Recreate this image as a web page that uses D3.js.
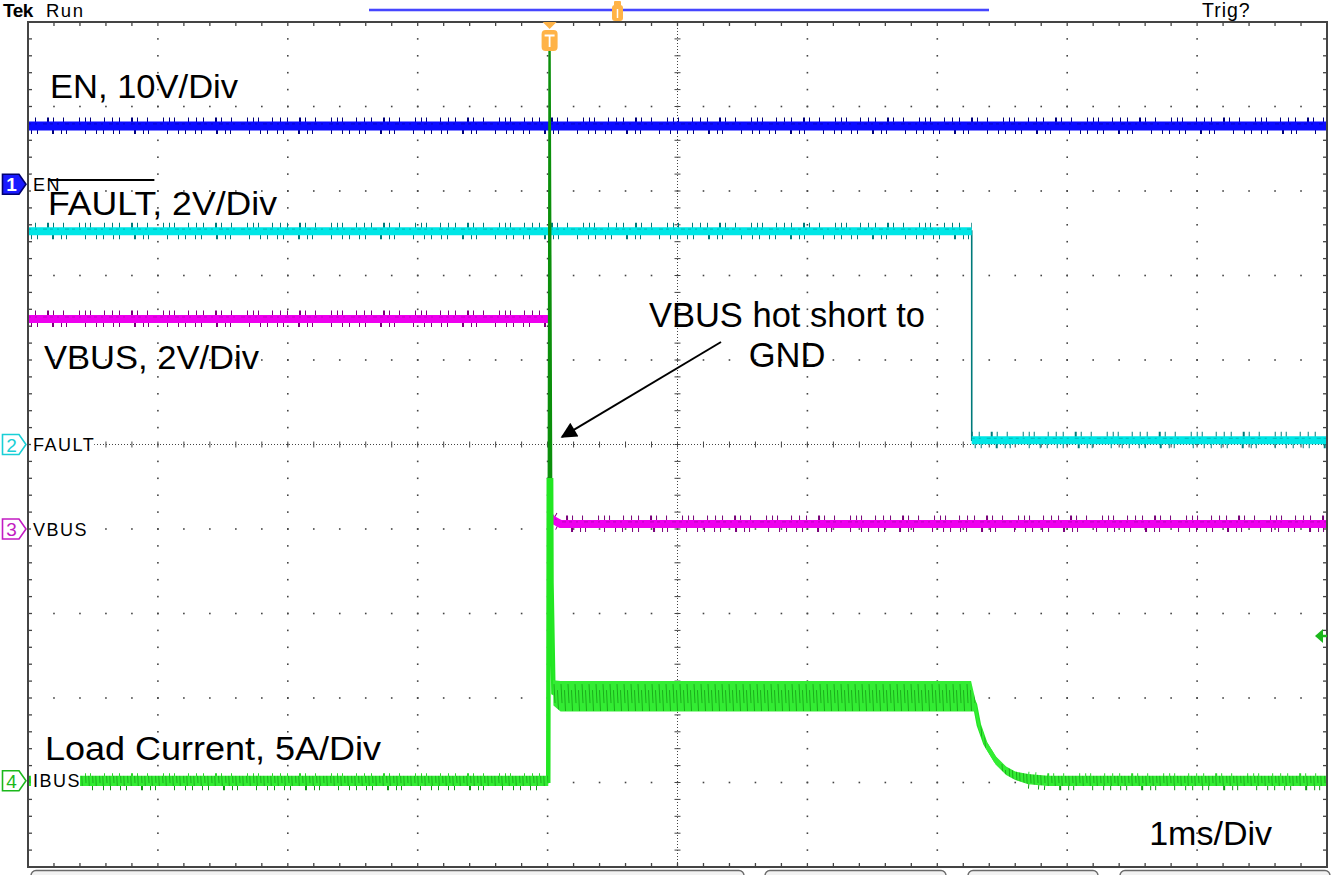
<!DOCTYPE html>
<html><head><meta charset="utf-8">
<script src="https://cdn.jsdelivr.net/npm/d3@7/dist/d3.min.js"></script>
<style>
body{margin:0;background:#fff;}
svg text{font-family:"Liberation Sans",Arial,sans-serif;}
</style></head><body>
<svg id="c" width="1333" height="875"></svg>
<script>
// ---------------- data (read from the scope capture) ----------------
const timeDomainMs = [-4, 6];          // 1 ms/div, 10 horizontal divisions, trigger at 0
const divRange = [-5, 5];              // 10 vertical divisions

const channelNames = ["EN", "FAULT", "VBUS", "IBUS"];
const channelNums = ["1", "2", "3", "4"];
const channelScales = [10, 2, 2, 5];          // units per division
const channelOffsets = [3.08, 0, -1.0, -3.98]; // ground marker, in divisions
const channelTitles = ["EN, 10V/Div", "FAULT, 2V/Div", "VBUS, 2V/Div", "Load Current, 5A/Div"];

const enTime = [-4, 6];
const enVolts = [6.9, 6.9];

const faultTime = [-4, 3.265, 3.265, 6];
const faultVolts = [5.05, 5.05, 0.1, 0.1];

const vbusTime = [-4, 0.015, 0.015, 0.04, 0.1, 6];
const vbusVolts = [4.97, 4.97, 0.3, 0.22, 0.12, 0.12];

const ibusTime = [-4, 0.005, 0.015, 0.03, 0.045, 0.1, 3.26, 3.29, 3.32, 3.37, 3.45, 3.53, 3.6, 3.7, 3.85, 6];
const ibusAmps = [0, 0, 43.5, 11.7, 5.2, 5.0, 5.0, 4.5, 3.3, 2.2, 1.2, 0.6, 0.3, 0.1, 0.0, 0];
const ibusRipple = [0.6, 0.6, 0, 0, 1.5, 1.8, 1.8, 0.8, 0.5, 0.5, 0.5, 0.5, 0.5, 0.6, 0.6, 0.6];

const annotationLines = ["VBUS hot short to", "GND"];
const timebaseLabel = "1ms/Div";
// annotation arrow: [time ms, divisions]
const arrowFrom = [1.335, 1.213];
const arrowTo = [0.111, 0.089];

// ---------------- setup ----------------
const svg = d3.select("#c");
const L = 28, R = 1327, T = 22, B = 867;
const x = d3.scaleLinear().domain(timeDomainMs).range([L, R]);
const yd = d3.scaleLinear().domain(divRange).range([B, T]);
const chY = (ci, v) => yd(channelOffsets[ci] + v / channelScales[ci]);

const traceColors = ["#0c0cff", "#00e6e6", "#ee00ee", "#22e622"];
const darkColors = ["#00007a", "#007a7a", "#7a007a", "#0a8a0a"];
const markerColors = ["#1a1aff", "#19cfd6", "#c21bc2", "#1bb81b"];

const defs = svg.append("defs");
defs.append("clipPath").attr("id", "plot").append("rect")
  .attr("x", L).attr("y", T).attr("width", R - L).attr("height", B - T);
defs.append("clipPath").attr("id", "lower").append("rect")
  .attr("x", L).attr("y", 478).attr("width", R - L).attr("height", B - 478);
const rip = defs.append("pattern").attr("id", "rip").attr("width", 7).attr("height", 40)
  .attr("patternUnits", "userSpaceOnUse").attr("y", chY(3, 5.9));
rip.append("rect").attr("width", 7).attr("height", 40).attr("fill", "#33ec33");
rip.append("path").attr("d", "M1,3 L2,22 M4.5,9 L5.5,30").attr("stroke", "#17a617").attr("stroke-width", 0.9);
defs.append("marker").attr("id", "ah").attr("viewBox", "0 0 10 10").attr("refX", 9).attr("refY", 5)
  .attr("markerWidth", 22).attr("markerHeight", 16).attr("markerUnits", "userSpaceOnUse")
  .attr("orient", "auto")
  .append("path").attr("d", "M0,0 L10,5 L0,10 Z").attr("fill", "#000");

// ---------------- graticule ----------------
const grid = svg.append("g");
const gridCol = "#444";
const minorX = d3.range(0, 51).map(i => timeDomainMs[0] + i * 0.2);
const minorY = d3.range(0, 51).map(i => divRange[0] + i * 0.2);
const majX = d3.range(1, 10).map(i => timeDomainMs[0] + i);
const majY = d3.range(1, 10).map(i => divRange[0] + i);
const cT = timeDomainMs[0] + 5, cD = 0;

majX.filter(t => Math.abs(t - cT) > 1e-6).forEach(t => {
  minorY.slice(1, -1).forEach(d => {
    grid.append("rect").attr("x", x(t) - 0.8).attr("y", yd(d) - 0.8).attr("width", 1.6).attr("height", 1.6).attr("fill", gridCol);
  });
});
majY.filter(d => Math.abs(d - cD) > 1e-6).forEach(d => {
  minorX.slice(1, -1).forEach(t => {
    grid.append("rect").attr("x", x(t) - 0.8).attr("y", yd(d) - 0.8).attr("width", 1.6).attr("height", 1.6).attr("fill", gridCol);
  });
});
grid.append("line").attr("x1", x(cT)).attr("x2", x(cT)).attr("y1", T).attr("y2", B)
  .attr("stroke", gridCol).attr("stroke-width", 1).attr("stroke-dasharray", "1 2");
grid.append("line").attr("x1", L).attr("x2", R).attr("y1", yd(cD)).attr("y2", yd(cD))
  .attr("stroke", gridCol).attr("stroke-width", 1).attr("stroke-dasharray", "1 2");
minorY.forEach(d => grid.append("line").attr("x1", x(cT) - 3).attr("x2", x(cT) + 3).attr("y1", yd(d)).attr("y2", yd(d)).attr("stroke", gridCol));
minorX.forEach(t => grid.append("line").attr("x1", x(t)).attr("x2", x(t)).attr("y1", yd(cD) - 3).attr("y2", yd(cD) + 3).attr("stroke", gridCol));
minorX.forEach(t => {
  grid.append("line").attr("x1", x(t)).attr("x2", x(t)).attr("y1", T).attr("y2", T + 4).attr("stroke", gridCol).attr("stroke-width", 1.3);
  grid.append("line").attr("x1", x(t)).attr("x2", x(t)).attr("y1", B).attr("y2", B - 4).attr("stroke", gridCol).attr("stroke-width", 1.3);
});
minorY.forEach(d => {
  grid.append("line").attr("x1", L).attr("x2", L + 4).attr("y1", yd(d)).attr("y2", yd(d)).attr("stroke", gridCol).attr("stroke-width", 1.3);
  grid.append("line").attr("x1", R).attr("x2", R - 4).attr("y1", yd(d)).attr("y2", yd(d)).attr("stroke", gridCol).attr("stroke-width", 1.3);
});

// ---------------- traces ----------------
const traces = svg.append("g").attr("clip-path", "url(#plot)");
const line = d3.line();
const dashA = "1 6 1 11 2 4 1 9 1 15 1 5 1 4 1 13 1 7";
const dashB = "1 9 1 5 1 14 2 7 1 4 1 18 1 10 1 6";

function drawBand(ci, ts, vs, width) {
  const pts = ts.map((t, i) => [x(t), chY(ci, vs[i])]);
  traces.append("path").attr("d", line(pts)).attr("fill", "none")
    .attr("stroke", darkColors[ci]).attr("stroke-width", 1.6);
  const runs = [];
  let cur = [pts[0]];
  for (let i = 1; i < pts.length; i++) {
    if (Math.abs(pts[i][0] - pts[i - 1][0]) < 0.5) { runs.push(cur); cur = [pts[i]]; }
    else cur.push(pts[i]);
  }
  runs.push(cur);
  runs.filter(r => r.length > 1).forEach(r => {
    traces.append("path").attr("d", line(r)).attr("fill", "none").attr("transform", "translate(0,-5)")
      .attr("stroke", darkColors[ci]).attr("stroke-width", 7).attr("stroke-dasharray", dashA);
    traces.append("path").attr("d", line(r)).attr("fill", "none").attr("transform", "translate(0,5)")
      .attr("stroke", darkColors[ci]).attr("stroke-width", 6).attr("stroke-dasharray", dashB).attr("stroke-dashoffset", 7);
    traces.append("path").attr("d", line(r)).attr("fill", "none")
      .attr("stroke", traceColors[ci]).attr("stroke-width", width);
    traces.append("path").attr("d", line(r)).attr("fill", "none").attr("transform", "translate(0,-2)")
      .attr("stroke", darkColors[ci]).attr("stroke-opacity", 0.35).attr("stroke-width", 1.2).attr("stroke-dasharray", "3 4 2 6 4 3");
  });
}

drawBand(0, enTime, enVolts, 9);
drawBand(1, faultTime, faultVolts, 8);
drawBand(2, vbusTime, vbusVolts, 8);

// IBUS
{
  const ci = 3;
  const pts = ibusTime.map((t, i) => [x(t), chY(ci, ibusAmps[i])]);
  traces.append("path").attr("d", line(pts)).attr("fill", "none")
    .attr("stroke", "#0b8f0b").attr("stroke-width", 2.4);
  const pre = ibusTime.map((t, i) => [t, ibusAmps[i]]).filter(p => p[0] <= 0.005).map(p => [x(p[0]), chY(ci, p[1])]);
  const post = ibusTime.map((t, i) => [t, ibusAmps[i]]).filter(p => p[0] >= 3.7).map(p => [x(p[0]), chY(ci, p[1])]);
  [pre, post].forEach(r => {
    traces.append("path").attr("d", line(r)).attr("fill", "none").attr("transform", "translate(0,6)")
      .attr("stroke", "#139a13").attr("stroke-width", 7).attr("stroke-dasharray", dashB);
    traces.append("path").attr("d", line(r)).attr("fill", "none").attr("transform", "translate(0,-5)")
      .attr("stroke", "#2bd42b").attr("stroke-width", 5).attr("stroke-dasharray", dashA);
  });
  traces.append("path").attr("d", line(pts)).attr("fill", "none").attr("clip-path", "url(#lower)")
    .attr("stroke", traceColors[ci]).attr("stroke-width", 4.5);
  const area = d3.area()
    .x((d, i) => x(ibusTime[i]))
    .y0((d, i) => chY(ci, ibusAmps[i] - ibusRipple[i] / 2))
    .y1((d, i) => chY(ci, ibusAmps[i] + ibusRipple[i] / 2));
  traces.append("path").attr("d", area(ibusTime)).attr("fill", "url(#rip)");
}

// ---------------- border ----------------
svg.append("rect").attr("x", L).attr("y", T).attr("width", R - L).attr("height", B - T)
  .attr("fill", "none").attr("stroke", "#444").attr("stroke-width", 2);

[[31, 744], [765, 946], [968, 1098], [1120, 1330]].forEach(([a, b]) => {
  svg.append("rect").attr("x", a).attr("y", 870.5).attr("width", b - a).attr("height", 14).attr("rx", 5)
    .attr("fill", "#f2f2f2").attr("stroke", "#6a6a6a").attr("stroke-width", 1.4);
});

// ---------------- channel markers + names ----------------
channelNames.forEach((name, ci) => {
  const cy = yd(channelOffsets[ci]);
  const c = markerColors[ci];
  const filled = ci === 0;
  svg.append("path").attr("d", `M2.5,${cy - 10} L19,${cy - 10} L26,${cy} L19,${cy + 10} L2.5,${cy + 10} Z`)
    .attr("fill", filled ? c : "#fff").attr("stroke", filled ? "#000070" : c).attr("stroke-width", 1.6);
  svg.append("text").attr("x", 11.5).attr("y", cy + 7).attr("text-anchor", "middle")
    .attr("font-size", 19).attr("font-family", "DejaVu Sans").attr("font-weight", filled ? "bold" : "normal")
    .attr("fill", filled ? "#fff" : c).text(channelNums[ci]);
  const t = svg.append("text").attr("x", 33).attr("y", cy + 6.5)
    .attr("font-size", 18).attr("font-family", "DejaVu Sans").attr("letter-spacing", 1.5)
    .attr("fill", "#000").text(name);
  const bb = t.node().getBBox();
  svg.insert("rect", () => t.node()).attr("x", bb.x - 2).attr("y", bb.y).attr("width", bb.width + 1).attr("height", bb.height)
    .attr("fill", "#fff");
});

// ---------------- big labels ----------------
const titlePos = [[50, 98], [48, 215], [44, 369], [45, 760]];
const titleWidths = [188, 229, 215, 336];
channelTitles.forEach((s, i) => {
  svg.append("text").attr("x", titlePos[i][0]).attr("y", titlePos[i][1]).attr("font-size", 34)
    .attr("textLength", titleWidths[i]).attr("lengthAdjust", "spacingAndGlyphs")
    .attr("fill", "#000").text(s);
});
{
  const tmp = svg.append("text").attr("font-size", 34).text("FAULT");
  const w = tmp.node().getComputedTextLength() * 1.03;
  tmp.remove();
  svg.append("line").attr("x1", titlePos[1][0]).attr("x2", titlePos[1][0] + w)
    .attr("y1", 180).attr("y2", 180).attr("stroke", "#000").attr("stroke-width", 2);
}

annotationLines.forEach((s, i) => {
  svg.append("text").attr("x", 787).attr("y", 327 + i * 40).attr("text-anchor", "middle")
    .attr("font-size", 34.5).attr("fill", "#000").text(s);
});
svg.append("line")
  .attr("x1", x(arrowFrom[0])).attr("y1", yd(arrowFrom[1]))
  .attr("x2", x(arrowTo[0])).attr("y2", yd(arrowTo[1]))
  .attr("stroke", "#000").attr("stroke-width", 2).attr("marker-end", "url(#ah)");

svg.append("text").attr("x", 1272).attr("y", 845).attr("text-anchor", "end")
  .attr("font-size", 34).attr("fill", "#000").text(timebaseLabel);

// ---------------- header ----------------
svg.append("text").attr("x", 3).attr("y", 17).attr("font-family", "DejaVu Serif").attr("font-weight", "bold")
  .attr("font-size", 19).attr("letter-spacing", -0.5).attr("fill", "#000").text("Tek");
svg.append("text").attr("x", 46).attr("y", 17).attr("font-family", "DejaVu Sans")
  .attr("font-size", 18.5).attr("letter-spacing", 1.5).attr("fill", "#000").text("Run");
svg.append("text").attr("x", 1202).attr("y", 17).attr("font-family", "DejaVu Sans")
  .attr("font-size", 19.5).attr("letter-spacing", 1).attr("fill", "#000").text("Trig?");

svg.append("line").attr("x1", 369).attr("x2", 989).attr("y1", 10).attr("y2", 10)
  .attr("stroke", "#9a9aff").attr("stroke-width", 3);
svg.append("line").attr("x1", 369).attr("x2", 989).attr("y1", 10).attr("y2", 10)
  .attr("stroke", "#2a2aff").attr("stroke-width", 1.5);
svg.append("rect").attr("x", 614).attr("y", 1).attr("width", 7).attr("height", 5).attr("rx", 1).attr("fill", "#ffb347");
svg.append("rect").attr("x", 612).attr("y", 5).attr("width", 11).attr("height", 16).attr("rx", 3).attr("fill", "#ffb347");
svg.append("line").attr("x1", 617.5).attr("x2", 617.5).attr("y1", 9).attr("y2", 18).attr("stroke", "#fff").attr("stroke-width", 1.5);

{
  const tx = x(0) + 2;
  svg.append("path").attr("d", `M${tx - 7},22 L${tx + 7},22 L${tx},29 Z`).attr("fill", "#ffb347");
  svg.append("rect").attr("x", tx - 8).attr("y", 30).attr("width", 16).attr("height", 21).attr("rx", 4).attr("fill", "#ffb347");
  svg.append("path").attr("d", `M${tx - 5},35.5 L${tx + 5},35.5 M${tx},35.5 L${tx},47`).attr("stroke", "#fff").attr("stroke-width", 1.8);
}

{
  const ty = 636;
  svg.append("path").attr("d", `M1315,${ty} L1323,${ty - 7} L1323,${ty + 7} Z`).attr("fill", "#1bb81b");
  svg.append("line").attr("x1", 1322).attr("x2", 1327).attr("y1", ty).attr("y2", ty).attr("stroke", "#1bb81b").attr("stroke-width", 2.5);
}
</script>
</body></html>
